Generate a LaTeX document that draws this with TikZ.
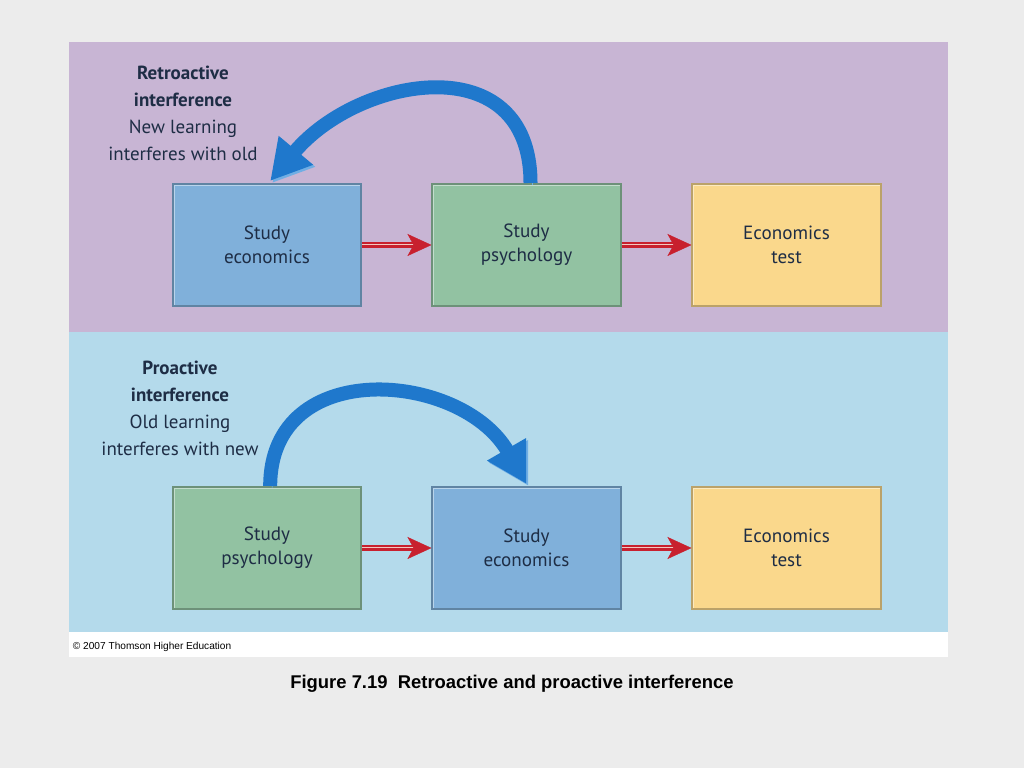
\documentclass[tikz,border=0pt]{standalone}
\usepackage{fontspec}
\setmainfont{PT Sans}
\newfontfamily\arialfont{Liberation Sans}
\usetikzlibrary{arrows.meta}

\definecolor{pagebg}{HTML}{ECECEC}
\definecolor{retrobg}{HTML}{C8B5D4}
\definecolor{probg}{HTML}{B4DAEB}
\definecolor{econblue}{HTML}{80B0DA}
\definecolor{psygreen}{HTML}{92C2A2}
\definecolor{testyellow}{HTML}{FAD88C}
\definecolor{arcblue}{HTML}{1F78CC}
\definecolor{arclight}{HTML}{70AEE4}
\definecolor{inktext}{HTML}{1E2D45}
\definecolor{linkred}{HTML}{C8202E}
\definecolor{linkpale}{HTML}{F2C8C0}

\begin{document}
\begin{tikzpicture}[x=0.025cm,y=0.025cm,
	stepbox/.style={fill=#1, draw=#1!75!black, line width=0.05cm, inner sep=0pt,
		minimum width=4.7cm, minimum height=3.05cm, align=center, text=inktext,
		font=\fontsize{13.6pt}{0.6cm}\selectfont,
		path picture={\draw[#1!55!white, line width=0.1cm]
			(path picture bounding box.south west) -- (path picture bounding box.north west)
			-- (path picture bounding box.north east);}},
	sidelabel/.style={anchor=north, align=center, text=inktext,
		font=\fontsize{13.5pt}{0.675cm}\selectfont},
	linkarrow/.style={draw=linkred, line width=0.15cm, shorten >=0.4cm,
		postaction={draw=linkpale, line width=0.05cm, shorten >=0.4cm},
		postaction={draw=linkred, line width=0.01cm, shorten >=0pt,
			-{Stealth[length=0.6cm, width=0.55cm, inset=0.15cm, fill=linkred, color=linkred]}}},
	bigarc/.style={draw=arcblue, line width=0.35cm,
		-{Triangle[length=1cm, width=1.05cm, fill=arcblue, color=arcblue]},
		preaction={draw=arclight, transform canvas={shift={(0.05cm,-0.05cm)}},
			-{Triangle[length=1cm, width=1.05cm, fill=arclight, color=arclight]}}}]

% background and panels
\fill[pagebg] (0,0) rectangle (1024,768);
\fill[white] (69,111) rectangle (948,726);
\fill[retrobg] (69,436) rectangle (948,726);
\fill[probg] (69,136) rectangle (948,436);

% retroactive row
\node[stepbox=econblue] (econA) at (267,523) {Study\\economics};
\node[stepbox=psygreen] (psyA) at (526.5,523) {Study\\psychology};
\node[stepbox=testyellow] (testA) at (786.5,523) {Economics\\test};

% proactive row
\node[stepbox=psygreen] (psyB) at (267,220) {Study\\psychology};
\node[stepbox=econblue] (econB) at (526.5,220) {Study\\economics};
\node[stepbox=testyellow] (testB) at (786.5,220) {Economics\\test};

\node[sidelabel] (retrolabel) at (183,707) {\textbf{Retroactive}\\\textbf{interference}\\New learning\\interferes with old};
\node[sidelabel] (prolabel) at (180,412) {\textbf{Proactive}\\\textbf{interference}\\Old learning\\interferes with new};

\draw[linkarrow] (econA) -- (psyA);
\draw[linkarrow] (psyA) -- (testA);
\draw[linkarrow] (psyB) -- (econB);
\draw[linkarrow] (econB) -- (testB);

\draw[bigarc] ([xshift=0.1cm]psyA.north) to[out=90,in=50,looseness=1.35] ([xshift=0.08cm,yshift=0.05cm]econA.north);
\draw[bigarc] ([xshift=0.08cm]psyB.north) to[out=90,in=120,looseness=1.3] ([yshift=0.05cm]econB.north);

\node[anchor=west, font=\arialfont\fontsize{7.2pt}{8pt}\selectfont] (copyright) at (68,121) {© 2007 Thomson Higher Education};
\node[font=\arialfont\bfseries\fontsize{13.1pt}{15pt}\selectfont] (caption) at (512,84) {Figure 7.19\ \ Retroactive and proactive interference};
\end{tikzpicture}
\end{document}
